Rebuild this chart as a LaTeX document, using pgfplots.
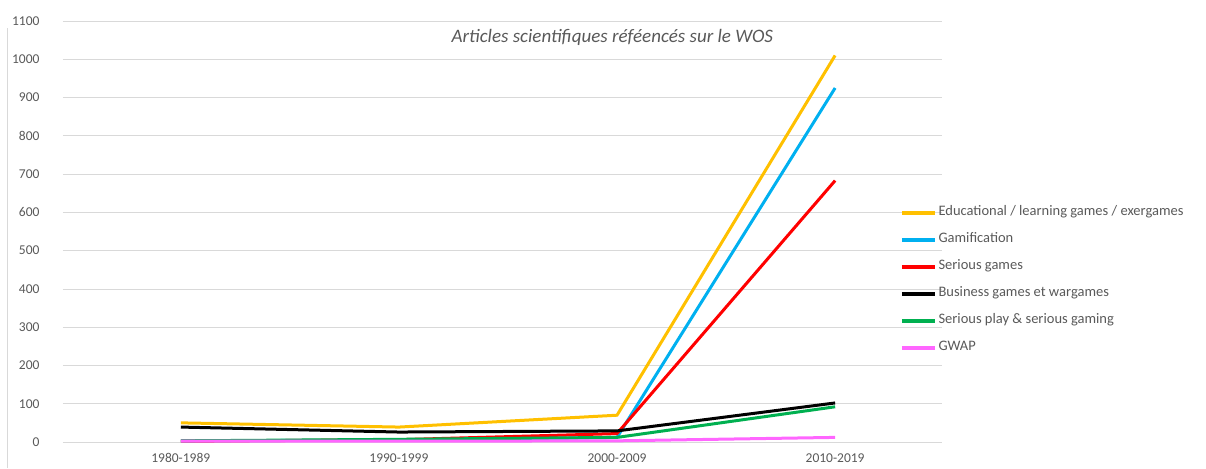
\documentclass[border=0pt]{standalone}
\usepackage{pgfplots}
\pgfplotsset{compat=1.18}
\usepackage{fontspec}
\setmainfont{Carlito}
\definecolor{gridc}{HTML}{D9D9D9}
\definecolor{txt}{HTML}{595959}
\definecolor{cedu}{HTML}{FFC000}
\definecolor{cgam}{HTML}{00B0F0}
\definecolor{cser}{HTML}{FF0000}
\definecolor{cbus}{HTML}{000000}
\definecolor{cplay}{HTML}{00B050}
\definecolor{cgwap}{HTML}{FF66FF}
\begin{document}
\begin{tikzpicture}[x=1pt,y=1pt]
\path[use as bounding box] (0,0) rectangle (1206,468);
\draw[gridc, line width=0.8pt] (7,0) -- (7,440);
\begin{axis}[
  at={(63pt,26pt)}, anchor=south west,
  scale only axis, width=879pt, height=421pt,
  xmin=-0.54, xmax=3.49, ymin=0, ymax=1100,
  xtick={0,1,2,3},
  xticklabels={1980-1989,1990-1999,2000-2009,2010-2019},
  ytick={0,100,...,1100},
  ymajorgrids, grid style={gridc, line width=0.8pt},
  axis line style={draw=none},
  major tick style={draw=none},
  /pgf/number format/assume math mode=true,
  /pgf/number format/1000 sep={},
  tick label style={font=\fontsize{13.5}{13.5}\selectfont, text=txt},
  yticklabel style={xshift=-20pt},
  xticklabel style={yshift=-8pt},
  clip=false,
  legend style={at={(rel axis cs:0.952,0.564)}, anchor=north west,
    draw=none, fill=none, font=\fontsize{14.5}{14.5}\selectfont, text=txt,
    inner sep=0pt, row sep=11pt,
    nodes={text height=9pt, text depth=3pt, inner sep=2pt}},
  legend cell align=left,
  legend image code/.code={\draw[#1, line width=3.5pt] (0pt,0pt) -- (33pt,0pt);},
  every axis plot/.append style={line width=3pt, mark=none},
]
\addplot[cedu] coordinates {(0,50) (1,39) (2,70) (3,1010)};
\addlegendentry{Educational / learning games / exergames}
\addplot[cgam] coordinates {(0,3) (1,5) (2,12) (3,925)};
\addlegendentry{Gamification}
\addplot[cser] coordinates {(0,2) (1,6) (2,22) (3,683)};
\addlegendentry{Serious games}
\addplot[cbus] coordinates {(0,39) (1,26) (2,29) (3,102)};
\addlegendentry{Business games et wargames}
\addplot[cplay] coordinates {(0,3) (1,7) (2,12) (3,92)};
\addlegendentry{Serious play \& serious gaming}
\addplot[cgwap] coordinates {(0,2) (1,2) (2,3) (3,12)};
\addlegendentry{GWAP}
\node[font=\fontsize{19}{19}\selectfont\itshape, text=txt] at (rel axis cs:0.625,0.962) {Articles scientifiques réféencés sur le WOS};
\end{axis}
\end{tikzpicture}
\end{document}
